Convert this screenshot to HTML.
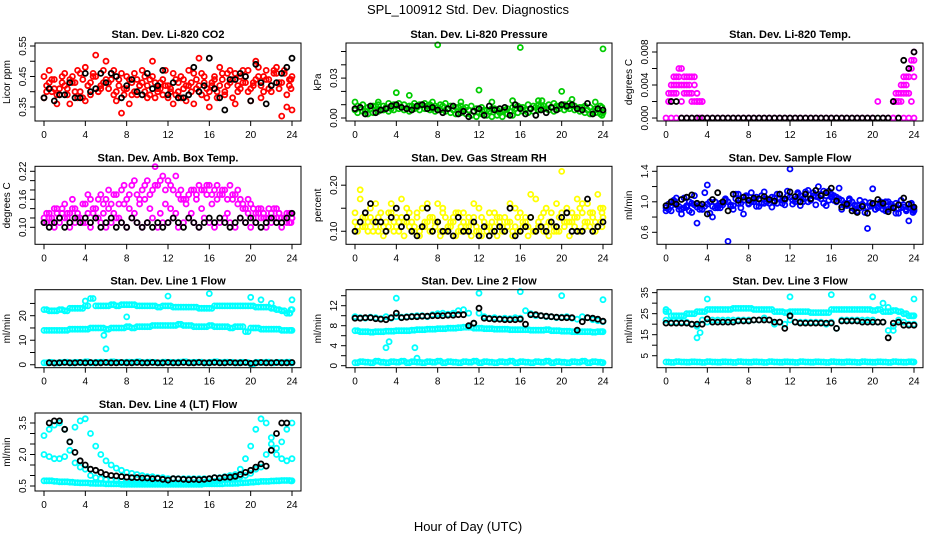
<!DOCTYPE html>
<html><head><meta charset="utf-8"><style>
body{margin:0;background:#fff;}
svg{display:block;font-family:"Liberation Sans",sans-serif;}
</style></head><body>
<svg id="chart" width="936" height="540" viewBox="0 0 936 540">
<text x="468" y="14" text-anchor="middle" font-size="13">SPL_100912  Std. Dev. Diagnostics</text>
<text x="468" y="531" text-anchor="middle" font-size="13">Hour of Day (UTC)</text>
</svg>
<script>
const HOURS=[0,0.5,1,1.5,2,2.5,3,3.5,4,4.5,5,5.5,6,6.5,7,7.5,8,8.5,9,9.5,10,10.5,11,11.5,12,12.5,13,13.5,14,14.5,15,15.5,16,16.5,17,17.5,18,18.5,19,19.5,20,20.5,21,21.5,22,22.5,23,23.5,24];
const HOURS_Q=[0.25,0.75,1.25,1.75,2.25,2.75,3.25,3.75,4.25,4.75,5.25,5.75,6.25,6.75,7.25,7.75,8.25,8.75,9.25,9.75,10.25,10.75,11.25,11.75,12.25,12.75,13.25,13.75,14.25,14.75,15.25,15.75,16.25,16.75,17.25,17.75,18.25,18.75,19.25,19.75,20.25,20.75,21.25,21.75,22.25,22.75,23.25,23.75,23.9];
const X_TICKS=[0,4,8,12,16,20,24];
// P1 CO2
const CO2_A=[0.38,0.47,0.44,0.41,0.46,0.36,0.43,0.40,0.48,0.39,0.45,0.42,0.50,0.44,0.37,0.46,0.41,0.43,0.39,0.47,0.42,0.45,0.40,0.44,0.38,0.46,0.43,0.41,0.47,0.36,0.42,0.45,0.40,0.44,0.48,0.39,0.43,0.46,0.41,0.45,0.37,0.44,0.42,0.47,0.40,0.46,0.43,0.39,0.45];
const CO2_B=[0.42,0.40,0.36,0.45,0.39,0.43,0.47,0.38,0.42,0.45,0.40,0.47,0.43,0.39,0.44,0.41,0.36,0.46,0.42,0.40,0.44,0.38,0.43,0.47,0.41,0.39,0.45,0.37,0.43,0.41,0.46,0.38,0.42,0.40,0.44,0.46,0.38,0.42,0.47,0.40,0.43,0.48,0.45,0.41,0.47,0.43,0.46,0.44,0.41];
const CO2_C=[0.45,0.43,0.41,0.39,0.42,0.44,0.40,0.46,0.37,0.43,0.52,0.41,0.44,0.46,0.40,0.33,0.45,0.39,0.44,0.43,0.38,0.50,0.41,0.39,0.42,0.36,0.40,0.44,0.42,0.46,0.51,0.43,0.35,0.45,0.42,0.40,0.47,0.36,0.45,0.43,0.41,0.50,0.38,0.44,0.42,0.48,0.32,0.35,0.34];
const CO2_D=[0.40,0.44,0.39,0.43,0.41,0.45,0.38,0.44,0.42,0.46,0.40,0.43,0.41,0.47,0.42,0.39,0.44,0.40,0.42,0.45,0.39,0.43,0.41,0.42,0.40,0.44,0.38,0.42,0.40,0.44,0.39,0.41,0.43,0.38,0.46,0.42,0.44,0.40,0.43,0.47,0.42,0.45,0.40,0.44,0.46,0.41,0.47,0.42,0.44];
const CO2_K=[0.38,0.41,0.37,0.39,0.39,0.43,0.38,0.38,0.46,0.40,0.41,0.46,0.43,0.46,0.45,0.38,0.42,0.44,0.40,0.39,0.46,0.41,0.42,0.47,0.39,0.43,0.38,0.38,0.39,0.48,0.40,0.42,0.51,0.41,0.38,0.34,0.44,0.44,0.46,0.45,0.37,0.49,0.43,0.36,0.42,0.43,0.46,0.48,0.51];
// P2 pressure
const PR_A=[0.006,0.008,0.005,0.007,0.009,0.006,0.008,0.007,0.009,0.008,0.007,0.009,0.008,0.010,0.009,0.007,0.008,0.009,0.007,0.006,0.008,0.007,0.006,0.005,0.004,0.006,0.005,0.007,0.004,0.006,0.005,0.007,0.008,0.006,0.007,0.008,0.009,0.007,0.008,0.009,0.010,0.008,0.009,0.007,0.008,0.006,0.005,0.006,0.004];
const PR_B=[0.004,0.005,0.003,0.004,0.005,0.006,0.005,0.006,0.007,0.006,0.005,0.007,0.006,0.007,0.006,0.005,0.006,0.005,0.004,0.003,0.004,0.003,0.002,0.001,0.003,0.002,0.001,0.002,0.001,0.003,0.002,0.004,0.005,0.004,0.005,0.006,0.007,0.006,0.005,0.007,0.006,0.007,0.006,0.005,0.004,0.003,0.004,0.003,0.002];
const PR_C=[0.009,0.010,0.008,0.009,0.010,0.009,0.011,0.010,0.011,0.010,0.009,0.011,0.010,0.011,0.010,0.009,0.010,0.011,0.009,0.008,0.009,0.008,0.009,0.007,0.008,0.006,0.007,0.006,0.005,0.007,0.008,0.009,0.008,0.010,0.009,0.010,0.009,0.010,0.011,0.009,0.010,0.011,0.009,0.008,0.009,0.008,0.007,0.009,0.008];
const PR_OUT_X=[0,2.25,4,5.25,7.5,8,10.25,12,13.25,15.25,16,17.75,18.1,20,21,23.25,24];
const PR_OUT_Y=[0.012,0.012,0.019,0.017,0.012,0.055,0.012,0.021,0.012,0.013,0.053,0.013,0.013,0.020,0.014,0.012,0.052];
const PR_K=[0.007,0.008,0.003,0.009,0.004,0.006,0.007,0.009,0.010,0.008,0.007,0.006,0.009,0.010,0.007,0.008,0.006,0.004,0.007,0.009,0.003,0.005,0.001,0.005,0.007,0.002,0.009,0.006,0.007,0.008,0.002,0.010,0.007,0.003,0.007,0.002,0.006,0.004,0.008,0.006,0.010,0.009,0.010,0.007,0.006,0.011,0.003,0.007,0.006];
// P3 temp
const TP_BASE=[0,0,0,0,0,0,0,0,0,0,0,0,0,0,0,0,0,0,0,0,0,0,0,0,0,0,0,0,0,0,0,0,0,0,0,0,0,0,0,0,0,0.002,0,0,0,0,0,0,0];
const TP_L_X=[0.25,0.5,0.75,1,1.25,1.5,1.75,2,2.25,2.5,2.75,3,3.25,3.5];
const TP_L_A=[0.003,0.004,0.005,0.005,0.006,0.006,0.005,0.005,0.004,0.005,0.005,0.003,0.002,0.002];
const TP_L_B=[0.002,0.002,0.004,0.004,0.005,0.004,0.004,0.003,0.005,0.003,0.004,0.002,0.002,0.002];
const TP_L_C=[0.002,0.003,0.003,0.003,0.004,0.002,0.003,0.004,0.003,0.002,0.002,0.002,0.0,0.0];
const TP_R_X=[22,22.25,22.5,22.75,23,23.25,23.5,23.75,24];
const TP_R_A=[0.002,0.003,0.003,0.004,0.005,0.005,0.006,0.007,0.008];
const TP_R_B=[0.002,0.002,0.002,0.003,0.004,0.003,0.005,0.006,0.007];
const TP_R_C=[0.0,0.002,0.002,0.002,0.003,0.004,0.003,0.002,0.005];
const TP_K=[null,0.002,0.002,0,0,0,0,0,0,0,0,0,0,0,0,0,0,0,0,0,0,0,0,0,0,0,0,0,0,0,0,0,0,0,0,0,0,0,0,0,0,0,0,0,0.002,0,0.007,0.006,0.008];
// P4 box temp
const BT_A=[0.11,0.12,0.10,0.11,0.12,0.10,0.11,0.12,0.11,0.10,0.12,0.11,0.10,0.11,0.12,0.11,0.10,0.12,0.11,0.10,0.11,0.12,0.10,0.11,0.11,0.12,0.10,0.11,0.12,0.11,0.10,0.12,0.11,0.10,0.11,0.12,0.11,0.10,0.12,0.11,0.10,0.11,0.12,0.10,0.11,0.12,0.10,0.11,0.12];
const BT_B=[0.12,0.13,0.14,0.12,0.15,0.13,0.14,0.12,0.15,0.16,0.14,0.17,0.16,0.15,0.17,0.18,0.16,0.19,0.17,0.18,0.20,0.18,0.19,0.21,0.20,0.18,0.17,0.16,0.17,0.18,0.19,0.18,0.19,0.18,0.17,0.18,0.19,0.17,0.16,0.14,0.15,0.13,0.14,0.12,0.13,0.14,0.12,0.13,0.12];
const BT_C=[0.13,0.11,0.14,0.13,0.12,0.14,0.13,0.11,0.13,0.14,0.12,0.13,0.14,0.13,0.12,0.15,0.14,0.13,0.15,0.16,0.14,0.23,0.13,0.15,0.14,0.13,0.16,0.15,0.13,0.16,0.14,0.17,0.15,0.16,0.17,0.13,0.16,0.15,0.14,0.13,0.12,0.14,0.13,0.12,0.14,0.13,0.12,0.13,0.11];
const BT_D=[0.11,0.12,0.13,0.14,0.13,0.16,0.12,0.15,0.17,0.13,0.16,0.15,0.18,0.17,0.15,0.19,0.17,0.20,0.16,0.19,0.17,0.19,0.20,0.18,0.19,0.21,0.18,0.16,0.18,0.17,0.18,0.19,0.17,0.19,0.18,0.16,0.17,0.18,0.15,0.16,0.14,0.13,0.12,0.14,0.12,0.13,0.12,0.11,0.13];
const BT_K=[0.11,0.10,0.11,0.12,0.10,0.11,0.12,0.11,0.12,0.11,0.12,0.10,0.11,0.12,0.10,0.11,0.10,0.12,0.11,0.10,0.11,0.10,0.11,0.10,0.11,0.12,0.11,0.10,0.12,0.11,0.10,0.11,0.12,0.11,0.12,0.11,0.10,0.11,0.12,0.11,0.12,0.11,0.10,0.11,0.12,0.11,0.11,0.12,0.13];
// P5 RH
const RH_A=[0.12,0.17,0.13,0.15,0.11,0.14,0.12,0.16,0.11,0.13,0.15,0.12,0.14,0.11,0.16,0.13,0.12,0.15,0.11,0.13,0.14,0.12,0.11,0.13,0.15,0.12,0.11,0.14,0.12,0.13,0.16,0.11,0.14,0.12,0.13,0.17,0.11,0.15,0.12,0.16,0.14,0.15,0.12,0.17,0.14,0.16,0.13,0.18,0.15];
const RH_B=[0.10,0.11,0.10,0.12,0.10,0.09,0.11,0.10,0.12,0.09,0.11,0.10,0.09,0.11,0.10,0.12,0.09,0.10,0.11,0.09,0.10,0.11,0.09,0.10,0.09,0.11,0.10,0.09,0.10,0.11,0.09,0.10,0.11,0.09,0.10,0.11,0.10,0.09,0.11,0.10,0.12,0.09,0.11,0.10,0.12,0.11,0.10,0.12,0.11];
const RH_C=[0.14,0.19,0.11,0.13,0.16,0.12,0.10,0.14,0.13,0.17,0.12,0.10,0.13,0.15,0.12,0.10,0.16,0.14,0.11,0.12,0.10,0.14,0.13,0.16,0.10,0.12,0.14,0.11,0.13,0.10,0.12,0.15,0.10,0.13,0.18,0.10,0.13,0.11,0.14,0.10,0.23,0.12,0.14,0.13,0.16,0.12,0.14,0.11,0.13];
const RH_D=[0.11,0.13,0.12,0.10,0.13,0.11,0.14,0.12,0.10,0.12,0.14,0.11,0.10,0.12,0.13,0.11,0.10,0.13,0.12,0.14,0.11,0.10,0.12,0.11,0.13,0.10,0.12,0.13,0.11,0.12,0.10,0.13,0.12,0.11,0.10,0.12,0.14,0.12,0.10,0.13,0.11,0.12,0.13,0.15,0.11,0.14,0.12,0.15,0.14];
const RH_K=[0.10,0.12,0.14,0.16,0.12,0.12,0.10,0.13,0.15,0.11,0.13,0.10,0.09,0.11,0.15,0.10,0.12,0.10,0.10,0.09,0.13,0.10,0.10,0.12,0.09,0.11,0.09,0.10,0.11,0.10,0.15,0.09,0.10,0.11,0.13,0.10,0.11,0.10,0.12,0.11,0.13,0.14,0.10,0.10,0.10,0.17,0.10,0.11,0.12];
// P6 sample flow
const SF_A=[0.92,0.88,0.96,0.90,0.95,0.86,0.93,0.90,0.97,0.94,0.92,0.96,1.00,0.95,0.98,1.02,0.97,1.00,1.03,0.98,1.02,1.00,1.05,1.02,1.06,1.03,1.08,1.05,1.02,1.07,1.04,1.08,1.10,1.06,1.02,0.98,1.00,0.95,0.97,0.93,0.96,0.92,0.95,0.90,0.94,0.91,0.96,0.92,0.88];
const SF_B=[0.97,1.02,0.90,1.05,0.88,1.08,0.96,1.12,0.85,1.00,0.92,1.04,0.94,1.10,0.92,1.06,1.12,0.94,1.08,1.00,0.93,1.10,0.98,1.14,0.97,1.12,1.00,1.15,1.08,1.20,0.98,1.14,1.02,1.18,0.96,1.04,0.90,1.02,0.86,0.99,0.90,1.00,0.88,0.97,0.85,1.02,0.88,0.98,0.86];
const SF_C=[0.88,0.95,1.05,0.84,0.93,0.98,0.72,0.90,1.22,0.80,0.95,0.99,0.48,0.90,1.10,0.84,0.98,1.03,0.94,1.13,0.98,1.05,1.10,0.96,1.43,1.00,0.95,1.13,1.04,0.96,1.10,0.95,1.06,1.00,0.90,0.95,0.92,0.88,0.96,0.65,1.17,0.94,0.90,1.00,0.92,0.85,0.93,0.75,0.90];
const SF_D=[0.90,0.98,0.94,0.92,1.00,0.96,0.90,0.94,1.00,0.92,0.98,1.02,0.96,1.04,0.98,1.08,1.00,1.06,0.98,1.04,1.06,0.98,1.02,1.08,1.02,1.10,1.04,1.00,1.12,1.06,1.14,1.02,1.08,1.04,0.98,1.02,0.96,0.92,1.00,0.94,0.90,0.96,1.00,0.94,0.98,0.92,0.90,0.96,0.92];
const SF_K=[0.95,1.00,0.97,1.03,1.06,1.09,0.98,0.97,0.84,1.03,1.12,1.00,0.88,1.10,1.02,1.06,1.02,1.05,1.04,1.07,1.03,1.01,1.10,1.04,1.13,1.07,1.00,1.10,1.04,1.15,1.08,1.12,1.18,1.01,0.93,0.97,0.88,0.86,0.94,0.85,0.98,1.03,0.98,0.87,0.92,0.96,1.05,0.97,0.93];
// P7 line 1
const L1_U=[22.5,22,22,22.5,22,23,23,23,24,27,24,24,24,24.5,24,24.5,24.5,24.5,24,24,24,24,23.5,24,24,23.5,23.5,23.5,23.5,23.5,23,23,23,24,24,24,24,24,24,24,24,23.5,23.5,23.5,23,22.5,22,21,22.5];
const L1_M=[14,14,14,14,14,14.5,14.5,14.5,14.5,15,15,15,14.5,15,15,15,15.5,15,15.5,15.5,15.5,16,16,16,16,16,16.5,16,16,15.5,15.5,15.5,16,15.5,15.5,15.5,15,15.5,15.5,13.5,15,15,14.5,14.5,14.5,14.5,14,14,14];
const L1_L=[0.8,1.0,0.7,0.9,1.1,0.8,1.0,0.9,1.2,0.8,1.0,1.1,0.9,1.2,1.0,0.9,1.1,1.0,1.2,0.9,1.1,1.0,0.8,1.1,1.0,0.9,1.1,1.2,0.9,1.0,1.1,0.8,1.0,1.2,0.9,1.1,1.0,0.8,1.0,0.9,0.4,1.0,0.9,1.1,0.8,1.0,0.9,1.1,0.8];
const L1_OUT_X=[4,5.8,6,8,12,16,20,21,22,23.8,24];
const L1_OUT_Y=[26,12,6.5,19.5,28,29,27.5,26.5,25,21,26.5];
const L1_K=[null,0.8,0.7,0.8,0.9,0.8,0.8,0.9,0.8,0.9,0.8,0.8,0.9,0.8,0.8,0.9,0.8,0.8,0.9,0.8,0.8,0.9,0.8,0.8,0.9,0.8,0.8,0.9,0.8,0.8,0.9,0.8,0.8,0.9,0.8,0.8,0.9,0.8,0.8,0.9,0.6,0.8,0.9,0.8,0.8,0.9,0.8,0.8,0.9];
// P8 line 2
const L2_U=[9.8,9.6,9.5,9.7,9.6,9.4,9.8,9.5,9.8,9.7,9.8,9.9,10,10,9.8,10.2,10.4,10.5,10.3,10.5,11,11.2,10.5,8.5,10.5,9.8,9.5,9.6,9.4,9.5,9.4,9.6,9.5,11,10.4,10,10,9.8,9.8,9.6,9.7,9.8,9.5,9.3,9.8,9.6,9.2,9.0,8.8];
const L2_M=[7,6.8,6.8,6.7,6.8,6.8,6.9,6.9,7,7,7,7.1,7.2,7.2,7.3,7.3,7.4,7.4,7.5,7.5,7.6,7.7,7.7,7.5,7.5,7.4,7.4,7.3,7.3,7.3,7.2,7.2,7.2,7.2,7.1,7.1,7.1,7.2,7,7,6.9,6.9,6.8,6.8,6.8,6.8,6.7,6.8,6.8];
const L2_L=[0.6,0.8,0.7,0.6,0.9,0.7,0.6,0.8,0.7,0.9,0.6,0.8,0.7,0.6,0.8,0.7,0.9,0.6,0.8,0.7,0.6,0.8,0.7,0.9,0.6,0.8,0.7,0.6,0.8,0.7,0.9,0.6,0.8,0.7,0.6,0.8,0.7,0.9,0.6,0.8,0.7,0.6,0.8,0.7,0.9,0.6,0.8,0.7,0.6];
const L2_OUT_X=[3,3.3,4,5.8,6,12,16,20,24];
const L2_OUT_Y=[3.6,4.8,13.5,3.6,1.5,14.5,14.8,14,13.2];
const L2_K=[9.5,9.5,9.6,9.6,9.4,9.3,9.2,9.6,10.5,9.6,9.7,9.8,9.8,9.9,9.9,10,10,10,10.1,10.1,10.2,10.2,8.0,8.5,11.5,9.5,9.4,9.3,9.3,9.2,9.2,9.2,9.3,8.3,10.2,10.2,10,9.9,9.8,9.7,9.6,9.6,9.6,7.1,8.8,9.6,9.5,9.3,8.9];
// P9 line 3
const L3_U=[26,24,24,24,25,25,26,26,27,27,27,27,27,27.5,27.5,27.5,27.5,27,27,27,27,26,26,25.5,26,26,26,26,25.5,25.5,25.5,25.5,27,27,27,27,27,27,27,27,26.5,27,26,26,26.5,26,25,24,24];
const L3_M=[22,21,21,21,21,20,19,22,21,22,22,22,22,22,22,22,22,22,22,23,22,20,21,20,22,21,21,21,21,21,21,20,21,18,22,22,22,22,22,22,22,21,21,17,19,22,21,20,20];
const L3_L=[2,1.8,2.2,2,1.9,2.1,2,1.8,2.2,2,1.9,2.1,2,1.8,2.2,2,1.9,2.1,2,1.8,2.2,2,1.9,2.1,2,1.8,2.2,2,1.9,2.1,2,1.8,2.2,2,1.9,2.1,2,1.8,2.2,2,1.9,2.1,2,1.8,2.2,2,1.9,2.1,2];
const L3_OUT_X=[0,3,3.3,4,12,16,20,21,21.5,22,24];
const L3_OUT_Y=[27,13.5,16,32,33,34,33,30,28,17,32];
const L3_K=[20.5,20.5,20.5,20.5,20.5,20,20,20,22.5,21,21,21,21,21,21.5,21.5,21.5,22,22,22,22,21,21,18,24,21,20.5,20.5,20.5,20.5,20.5,20.5,20.5,18,21.5,21.5,21.5,21.5,21,21,21,21,21,13.5,20.5,21,19.5,19.5,19.5];
// P10 line 4
const L4_A=[2.9,3.2,3.4,3.5,3.2,2.6,3.3,3.6,3.7,3.0,2.4,2.0,1.7,1.5,1.35,1.25,1.15,1.1,1.05,1.0,0.95,0.95,0.9,0.9,0.85,0.85,0.85,0.85,0.85,0.85,0.85,0.85,0.85,0.9,0.9,0.95,1.0,1.05,1.3,1.8,2.4,3.2,3.7,3.5,2.8,2.3,2.6,3.2,3.5];
const L4_B=[2.0,1.9,1.8,1.8,1.9,2.2,1.6,1.4,1.3,1.0,0.9,0.85,0.8,0.78,0.75,0.72,0.7,0.7,0.68,0.68,0.66,0.66,0.65,0.65,0.65,0.65,0.65,0.65,0.65,0.66,0.66,0.68,0.7,0.72,0.75,0.8,0.85,0.9,0.95,1.0,1.1,1.3,1.4,2.0,2.5,2.0,1.8,1.7,1.8];
const L4_C=[0.75,0.75,0.72,0.7,0.7,0.68,0.66,0.65,0.65,0.63,0.62,0.62,0.6,0.6,0.6,0.58,0.58,0.58,0.58,0.58,0.58,0.58,0.58,0.58,0.58,0.58,0.58,0.58,0.58,0.58,0.58,0.6,0.6,0.6,0.6,0.62,0.62,0.63,0.65,0.66,0.68,0.7,0.72,0.72,0.74,0.75,0.76,0.76,0.75];
const L4_K=[null,3.5,3.6,3.6,3.2,2.6,2.1,1.7,1.5,1.3,1.25,1.15,1.05,1.0,0.98,0.95,0.92,0.9,0.9,0.88,0.88,0.85,0.86,0.82,0.78,0.85,0.84,0.82,0.8,0.82,0.8,0.82,0.85,0.9,0.88,0.92,0.92,0.96,1.05,1.15,1.25,1.4,1.55,1.45,2.2,3.0,3.5,3.5,null];

const NS='http://www.w3.org/2000/svg';
const svg=document.getElementById('chart');
function mk(tag,attrs,parent){const e=document.createElementNS(NS,tag);for(const k in attrs)e.setAttribute(k,attrs[k]);(parent||svg).appendChild(e);return e;}
const COLS=[35,346,657], ROWS=[43,166.3,289.7,413], W=266, HB=78;
const RED='#ff0000',GRN='#00cc00',MAG='#ff00ff',YEL='#ffff00',BLU='#0000ff',CYN='#00ffff',BLK='#000000';
const panels=[
 {id:'co2',title:'Stan. Dev. Li-820 CO2',ylab:'Licor ppm',c:0,r:0,lo:0.304,hi:0.5598,ticks:[0.35,0.40,0.45,0.50,0.55],labels:['0.35','','0.45','','0.55'],
  series:[[HOURS,CO2_A,RED],[HOURS_Q,CO2_B,RED],[HOURS,CO2_C,RED],[HOURS_Q,CO2_D,RED],[HOURS,CO2_K,BLK]]},
 {id:'pressure',title:'Stan. Dev. Li-820 Pressure',ylab:'kPa',c:1,r:0,lo:-0.00226,hi:0.0564,ticks:[0,0.01,0.02,0.03,0.04,0.05],labels:['0.00','','','0.03','',''],
  series:[[HOURS,PR_A,GRN],[HOURS_Q,PR_B,GRN],[HOURS_Q,PR_C,GRN],[PR_OUT_X,PR_OUT_Y,GRN],[HOURS,PR_K,BLK]]},
 {id:'temp',title:'Stan. Dev. Li-820 Temp.',ylab:'degrees C',c:2,r:0,lo:-0.00036,hi:0.00909,ticks:[0,0.002,0.004,0.006,0.008],labels:['0.000','','0.004','','0.008'],
  series:[[HOURS,TP_BASE,MAG],[TP_L_X,TP_L_A,MAG],[TP_L_X,TP_L_B,MAG],[TP_L_X,TP_L_C,MAG],[TP_R_X,TP_R_A,MAG],[TP_R_X,TP_R_B,MAG],[TP_R_X,TP_R_C,MAG],[HOURS,TP_K,BLK]]},
 {id:'box-temp',title:'Stan. Dev. Amb. Box Temp.',ylab:'degrees C',c:0,r:1,lo:0.0636,hi:0.2307,ticks:[0.10,0.12,0.14,0.16,0.18,0.20,0.22],labels:['0.10','','','0.16','','','0.22'],
  series:[[HOURS,BT_A,MAG],[HOURS,BT_B,MAG],[HOURS_Q,BT_C,MAG],[HOURS_Q,BT_D,MAG],[HOURS,BT_K,BLK]]},
 {id:'rh',title:'Stan. Dev. Gas Stream RH',ylab:'percent',c:1,r:1,lo:0.0717,hi:0.241,ticks:[0.10,0.15,0.20],labels:['0.10','','0.20'],
  series:[[HOURS,RH_A,YEL],[HOURS_Q,RH_B,YEL],[HOURS,RH_C,YEL],[HOURS_Q,RH_D,YEL],[HOURS,RH_K,BLK]]},
 {id:'sample-flow',title:'Stan. Dev. Sample Flow',ylab:'ml/min',c:2,r:1,lo:0.4426,hi:1.4656,ticks:[0.6,0.8,1.0,1.2,1.4],labels:['0.6','','1.0','','1.4'],
  series:[[HOURS,SF_A,BLU],[HOURS_Q,SF_B,BLU],[HOURS,SF_C,BLU],[HOURS_Q,SF_D,BLU],[HOURS,SF_K,BLK]]},
 {id:'line1',title:'Stan. Dev. Line 1 Flow',ylab:'ml/min',c:0,r:2,lo:-1.2,hi:30.6,ticks:[0,5,10,15,20,25],labels:['0','','10','','20',''],
  series:[[HOURS,L1_U,CYN],[HOURS_Q,L1_U,CYN],[HOURS,L1_M,CYN],[HOURS_Q,L1_M,CYN],[HOURS,L1_L,CYN],[HOURS_Q,L1_L,CYN],[L1_OUT_X,L1_OUT_Y,CYN],[HOURS,L1_K,BLK]]},
 {id:'line2',title:'Stan. Dev. Line 2 Flow',ylab:'ml/min',c:1,r:2,lo:-0.4,hi:15.2,ticks:[0,2,4,6,8,10,12,14],labels:['0','','4','','8','','12',''],
  series:[[HOURS,L2_U,CYN],[HOURS,L2_M,CYN],[HOURS_Q,L2_M,CYN],[HOURS,L2_L,CYN],[HOURS_Q,L2_L,CYN],[L2_OUT_X,L2_OUT_Y,CYN],[HOURS,L2_K,BLK]]},
 {id:'line3',title:'Stan. Dev. Line 3 Flow',ylab:'ml/min',c:2,r:2,lo:-0.7,hi:36.4,ticks:[5,10,15,20,25,30,35],labels:['5','','15','','25','','35'],
  series:[[HOURS,L3_U,CYN],[HOURS_Q,L3_U,CYN],[HOURS,L3_M,CYN],[HOURS,L3_L,CYN],[HOURS_Q,L3_L,CYN],[L3_OUT_X,L3_OUT_Y,CYN],[HOURS,L3_K,BLK]]},
 {id:'line4',title:'Stan. Dev. Line 4 (LT) Flow',ylab:'ml/min',c:0,r:3,lo:0.262,hi:3.976,ticks:[0.5,1.0,1.5,2.0,2.5,3.0,3.5],labels:['0.5','','','2.0','','','3.5'],
  series:[[HOURS,L4_A,CYN],[HOURS,L4_B,CYN],[HOURS,L4_C,CYN],[HOURS_Q,L4_C,CYN],[HOURS,L4_K,BLK]]}
];
panels.forEach(p=>{
  const L=COLS[p.c], T=ROWS[p.r];
  const g=mk('g',{});
  
  
  const xs=h=>L+9+h*(248/24);
  const ys=v=>T+(p.hi-v)/(p.hi-p.lo)*HB;
  const t=mk('text',{x:L+W/2,y:T-5,'text-anchor':'middle','font-size':11,'font-weight':'bold'},g);
  t.textContent=p.title;
  
  
  const yl=mk('text',{x:0,y:0,'text-anchor':'middle','font-size':10,transform:`translate(${L-25},${T+HB/2}) rotate(-90)`},g);
  yl.textContent=p.ylab;
  
  
  const ya=mk('g',{},g);
  
  
  p.ticks.forEach((v,i)=>{
    const y=ys(v);
    mk('line',{x1:L-5,x2:L,y1:y,y2:y,stroke:'#000','stroke-width':1},ya);
    if(p.labels[i]){const tl=mk('text',{x:0,y:0,'text-anchor':'middle','font-size':10,transform:`translate(${L-9},${y}) rotate(-90)`},ya);tl.textContent=p.labels[i];}
  });
  const xa=mk('g',{},g);
  
  
  X_TICKS.forEach(h=>{
    const x=xs(h);
    mk('line',{x1:x,x2:x,y1:T+HB,y2:T+HB+5,stroke:'#000','stroke-width':1},xa);
    const tl=mk('text',{x:x,y:T+HB+17,'text-anchor':'middle','font-size':10},xa);tl.textContent=h;
  });
  const pts=mk('g',{},g);
  
  
  p.series.forEach(s=>{
    const [X,Y,col]=s;
    Y.forEach((v,i)=>{
      if(v===null||v===undefined)return;
      const c=mk('circle',{cx:xs(X[i]).toFixed(1),cy:ys(v).toFixed(1),r:2.5,fill:'none',stroke:col,'stroke-width':1.8},pts);
      
      
    });
  });
  const box=mk('rect',{x:L,y:T,width:W,height:HB,fill:'none',stroke:'#000','stroke-width':1},g);
  
  
});
</script>
</body></html>
